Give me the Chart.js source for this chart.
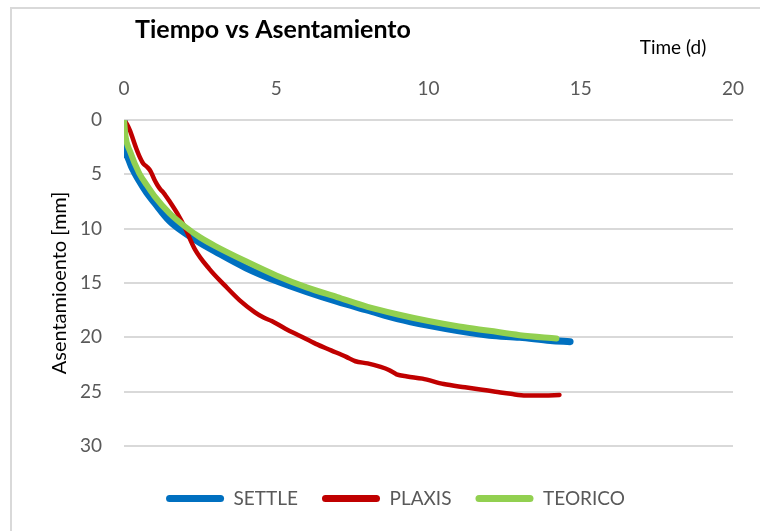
<!DOCTYPE html>
<html>
<head>
<meta charset="utf-8">
<script src="https://cdn.jsdelivr.net/npm/chart.js@4.4.1/dist/chart.umd.min.js"></script>
<style>
  html, body { margin: 0; padding: 0; background: #fff; }
  #wrap { position: relative; width: 760px; height: 531px; }
  #frame {
    position: absolute; left: 10px; top: 7px; right: -2px; bottom: -2px;
    border-left: 2px solid #d9d9d9; border-top: 2px solid #d9d9d9;
    pointer-events: none;
  }
</style>
</head>
<body>
<div id="wrap">
  <canvas id="settleChart" width="760" height="531"></canvas>
  <div id="frame"></div>
</div>
<script>
// time (days) and settlement (mm) for each method
const settleTime = [0, 0.02, 0.1, 0.25, 0.5, 0.75, 1, 1.5, 2, 2.5, 3, 4, 5, 6, 7, 8, 9, 10, 11, 12, 13, 14, 14.65];
const settleMm   = [0, 2.5, 3.3, 4.3, 5.6, 6.7, 7.6, 9.3, 10.4, 11.3, 12.1, 13.6, 14.8, 15.8, 16.7, 17.5, 18.3, 18.9, 19.4, 19.8, 20.0, 20.3, 20.4];

const plaxisTime = [0, 0.1, 0.2, 0.3, 0.4, 0.5, 0.63, 0.75, 0.87, 1.0, 1.1, 1.2, 1.3, 1.5, 1.75, 2, 2.33, 2.8, 3.3, 3.8, 4.3, 4.6, 4.85, 5.3, 5.8, 6.3, 6.8, 7.3, 7.6, 8.0, 8.4, 8.7, 8.95, 9.3, 9.8, 10.5, 11.2, 11.7, 12.2, 12.7, 13.2, 13.8, 14.3];
const plaxisMm   = [0, 0.4, 1.0, 1.8, 2.6, 3.3, 4.0, 4.3, 4.7, 5.5, 6.0, 6.4, 6.7, 7.5, 8.6, 9.9, 11.9, 13.7, 15.2, 16.6, 17.7, 18.2, 18.5, 19.2, 19.9, 20.6, 21.2, 21.8, 22.2, 22.4, 22.7, 23.0, 23.4, 23.6, 23.8, 24.3, 24.6, 24.8, 25.0, 25.2, 25.35, 25.35, 25.3];

const teoricoTime = [0, 0.05, 0.2, 0.5, 0.75, 1, 1.5, 2, 2.5, 3, 4, 5, 6, 7, 8, 9, 10, 11, 12, 13, 14.2];
const teoricoMm   = [0, 1.5, 2.9, 4.9, 6.0, 7.0, 8.6, 9.8, 10.8, 11.6, 13.0, 14.3, 15.4, 16.3, 17.2, 17.9, 18.5, 19.0, 19.4, 19.8, 20.1];

const xTicks = [0, 5, 10, 15, 20];
const yTicks = [0, 5, 10, 15, 20, 25, 30];

const toPoints = (xs, ys) => xs.map((x, i) => ({ x, y: ys[i] }));

const FONT = "Lato, 'Open Sans', 'Liberation Sans', sans-serif";
const GREY = "#595959";

// chart heading and the time axis caption
const headings = {
  id: "headings",
  afterDraw(chart) {
    const ctx = chart.ctx;
    ctx.save();
    ctx.fillStyle = "#000";
    ctx.textBaseline = "middle";
    ctx.textAlign = "center";
    ctx.font = "bold 25px " + FONT;
    ctx.fillText("Tiempo vs Asentamiento", 273, 30);
    ctx.font = "19px " + FONT;
    ctx.fillText("Time (d)", 673, 48);
    ctx.restore();
  }
};

new Chart(document.getElementById("settleChart"), {
  type: "line",
  data: {
    datasets: [
      {
        label: "SETTLE",
        data: toPoints(settleTime, settleMm),
        borderColor: "#0070c0",
        backgroundColor: "#0070c0",
        borderWidth: 7,
        order: 2
      },
      {
        label: "PLAXIS",
        data: toPoints(plaxisTime, plaxisMm),
        borderColor: "#c00000",
        backgroundColor: "#c00000",
        borderWidth: 4.5,
        order: 1
      },
      {
        label: "TEORICO",
        data: toPoints(teoricoTime, teoricoMm),
        borderColor: "#92d050",
        backgroundColor: "#92d050",
        borderWidth: 6,
        order: 0
      }
    ]
  },
  options: {
    responsive: false,
    animation: false,
    devicePixelRatio: 1,
    layout: { padding: { left: 58, right: 27, top: 0, bottom: 13 } },
    elements: {
      point: { radius: 0 },
      line: { tension: 0.4, cubicInterpolationMode: "monotone", borderCapStyle: "round", borderJoinStyle: "round", fill: false }
    },
    plugins: {
      legend: {
        display: true,
        position: "bottom",
        title: { display: true, text: "", font: { size: 10 }, padding: { top: 0, bottom: 7 } },
        labels: {
          color: GREY,
          font: { family: FONT, size: 19 },
          boxWidth: 58,
          boxHeight: 7,
          useBorderRadius: true,
          borderRadius: 3.5,
          padding: 24,
          sort: (a, b) => a.datasetIndex - b.datasetIndex,
          generateLabels(chart) {
            return Chart.defaults.plugins.legend.labels.generateLabels(chart)
              .map(l => ({ ...l, lineWidth: 0 }));
          }
        }
      },
      tooltip: { enabled: false },
      title: { display: false }
    },
    scales: {
      x: {
        type: "linear",
        position: "top",
        min: 0,
        max: 20,
        afterFit: s => { s.height = 120; },
        afterBuildTicks: s => { s.ticks = xTicks.map(v => ({ value: v })); },
        ticks: { color: GREY, font: { family: FONT, size: 19 }, padding: 12 },
        grid: { display: false },
        border: { display: false }
      },
      y: {
        type: "linear",
        reverse: true,
        min: 0,
        max: 30,
        afterFit: s => { s.width = 66; },
        afterBuildTicks: s => { s.ticks = yTicks.map(v => ({ value: v })); },
        ticks: { color: GREY, font: { family: FONT, size: 19 }, padding: 22 },
        grid: { color: "#d9d9d9", lineWidth: 2, drawTicks: false },
        border: { display: false },
        title: {
          display: true,
          text: "Asentamioento [mm]",
          color: "#000",
          font: { family: FONT, size: 20 },
          padding: { top: -10, bottom: 0 }
        }
      }
    }
  },
  plugins: [headings]
});
</script>
</body>
</html>
